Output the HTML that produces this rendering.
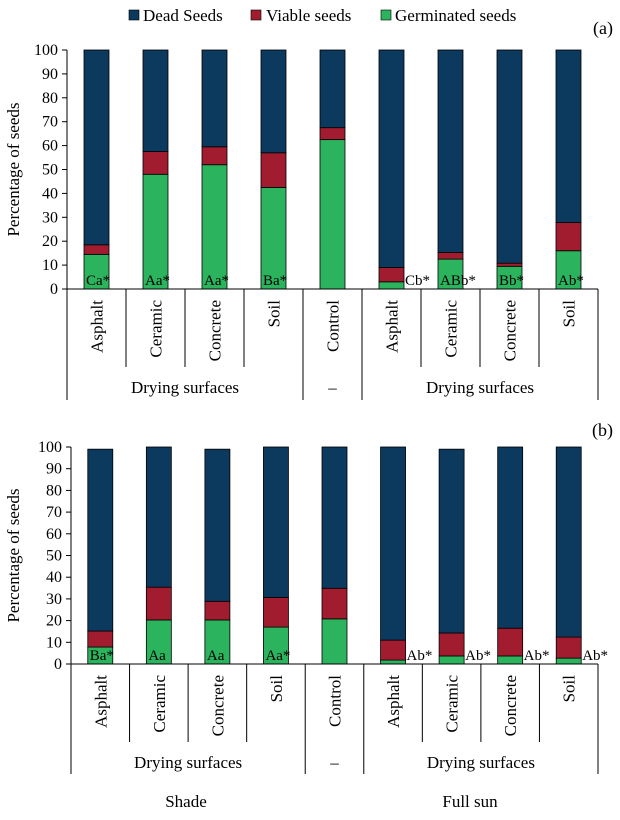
<!DOCTYPE html>
<html><head><meta charset="utf-8"><style>
html,body{margin:0;padding:0;background:#fff}
svg, svg text{font-family:'Liberation Serif','Times New Roman',Times,'Noto Serif CJK SC','DejaVu Serif',serif}
</style></head><body>
<svg id="chart" width="620" height="815" viewBox="0 0 620 815" xmlns="http://www.w3.org/2000/svg">
<g>
<rect x="129" y="10" width="10" height="10" fill="#0c3a5e" stroke="#000" stroke-width="0.6"/>
<text x="143" y="21" font-size="17">Dead Seeds</text>
<rect x="251" y="10" width="10" height="10" fill="#a01c2e" stroke="#000" stroke-width="0.6"/>
<text x="266" y="21" font-size="17">Viable seeds</text>
<rect x="381" y="10" width="10" height="10" fill="#2bb35e" stroke="#000" stroke-width="0.6"/>
<text x="395" y="21" font-size="17">Germinated seeds</text>
</g>
</svg>
<script>
const categories=["Asphalt","Ceramic","Concrete","Soil","Control","Asphalt","Ceramic","Concrete","Soil"];
const yTicks=[0,10,20,30,40,50,60,70,80,90,100];
const germA=[14.5,48,52,42.5,62.5,3,12.5,9.5,16];
const viableTopA=[18.5,57.5,59.5,57,67.5,9,15.3,10.8,27.8];
const totalA=[100,100,100,100,100,100,100,100,100];
const labelsA=["Ca*","Aa*","Aa*","Ba*","","Cb*","ABb*","Bb*","Ab*"];
const labelOutsideA=[0,0,0,0,0,1,0,0,0];
const germB=[7.8,20.3,20.3,17,20.8,1.8,3.7,3.7,2.7];
const viableTopB=[15.2,35.4,28.9,30.7,34.9,11,14.3,16.5,12.4];
const totalB=[99,100,99,100,100,100,99,100,100];
const labelsB=["Ba*","Aa","Aa","Aa*","","Ab*","Ab*","Ab*","Ab*"];
const labelOutsideB=[0,0,0,0,0,1,1,1,1];
const groups=["Drying surfaces","–","Drying surfaces"];

const svg=document.getElementById('chart');
const NS="http://www.w3.org/2000/svg";
function mk(tag,attrs,parent,text){const e=document.createElementNS(NS,tag);for(const k in attrs)e.setAttribute(k,attrs[k]);if(text!==undefined)e.textContent=text;parent.appendChild(e);return e;}

function panel(o){
  const g=mk('g',{},svg);
  
  
  const x0=o.x0,x1=598,yT=o.yTop,yB=o.yBot;
  const sw=(x1-x0)/categories.length;
  const y=v=>yB-(v/100)*(yB-yT);
  const xc=i=>x0+sw*(i+0.5);
  const bw=25;
  const ax=mk('line',{x1:x0,y1:yT,x2:x0,y2:yB,stroke:'#000','stroke-width':1},g);
  
  
  yTicks.forEach(t=>{
    mk('line',{x1:x0-5,y1:y(t),x2:x0,y2:y(t),stroke:'#000'},g);
    const tl=mk('text',{x:x0-9,y:y(t)+5,'font-size':16,'text-anchor':'end'},g,String(t));
    
    
  });
  const yt=mk('text',{x:0,y:0,'font-size':17,'text-anchor':'middle',transform:`translate(19,${(yT+yB)/2}) rotate(-90)`},g,'Percentage of seeds');
  
  
  categories.forEach((c,i)=>{
    const bx=xc(i)-bw/2;
    const segs=[[0,o.germ[i],'#2bb35e','germinated'],[o.germ[i],o.viab[i],'#a01c2e','viable'],[o.viab[i],o.tot[i],'#0c3a5e','dead']];
    segs.forEach(s=>{
      const r=mk('rect',{x:bx,y:y(s[1]),width:bw,height:y(s[0])-y(s[1]),fill:s[2],stroke:'#000','stroke-width':0.8},g);
      
      
    });
    if(o.lab[i]){
      const lx=o.out[i]?bx+bw+1:bx+2;
      const t=mk('text',{x:lx,y:yB-4,'font-size':15},g,o.lab[i]);
      
      
    }
    const cl=mk('text',{x:0,y:0,'font-size':17,'text-anchor':'end',transform:`translate(${xc(i)+6},${yB+11}) rotate(-90)`},g,c);
    
    
  });
  const xa=mk('line',{x1:x0-5,y1:yB,x2:x1,y2:yB,stroke:'#000','stroke-width':1},g);
  
  
  for(let i=1;i<categories.length;i++){
    const xx=x0+sw*i;
    const long=(i===4||i===5);
    mk('line',{x1:xx,y1:yB,x2:xx,y2:long?o.gBot:o.dBot,stroke:'#000'},g);
  }
  mk('line',{x1:x0,y1:yB,x2:x0,y2:o.gBot,stroke:'#000'},g);
  mk('line',{x1:x1,y1:yB,x2:x1,y2:o.gBot,stroke:'#000'},g);
  const gc=[x0+sw*2,x0+sw*4.5,x0+sw*7];
  groups.forEach((t,k)=>{
    const gl=mk('text',{x:gc[k],y:o.gLab,'font-size':17,'text-anchor':'middle'},g,t);
    
    
  });
  const pl=mk('text',{x:613,y:o.pY,'font-size':18,'text-anchor':'end'},g,o.tag);
  
  
}
panel({name:'panel-a',x0:67,yTop:50,yBot:289,dBot:367,gBot:400,gLab:393,pY:34,tag:'(a)',germ:germA,viab:viableTopA,tot:totalA,lab:labelsA,out:labelOutsideA});
panel({name:'panel-b',x0:71,yTop:447,yBot:664,dBot:742,gBot:774,gLab:768,pY:436,tag:'(b)',germ:germB,viab:viableTopB,tot:totalB,lab:labelsB,out:labelOutsideB});
const s1=mk('text',{x:186,y:807,'font-size':17,'text-anchor':'middle'},svg,'Shade');


const s2=mk('text',{x:470,y:807,'font-size':17,'text-anchor':'middle'},svg,'Full sun');


</script>
</body></html>
